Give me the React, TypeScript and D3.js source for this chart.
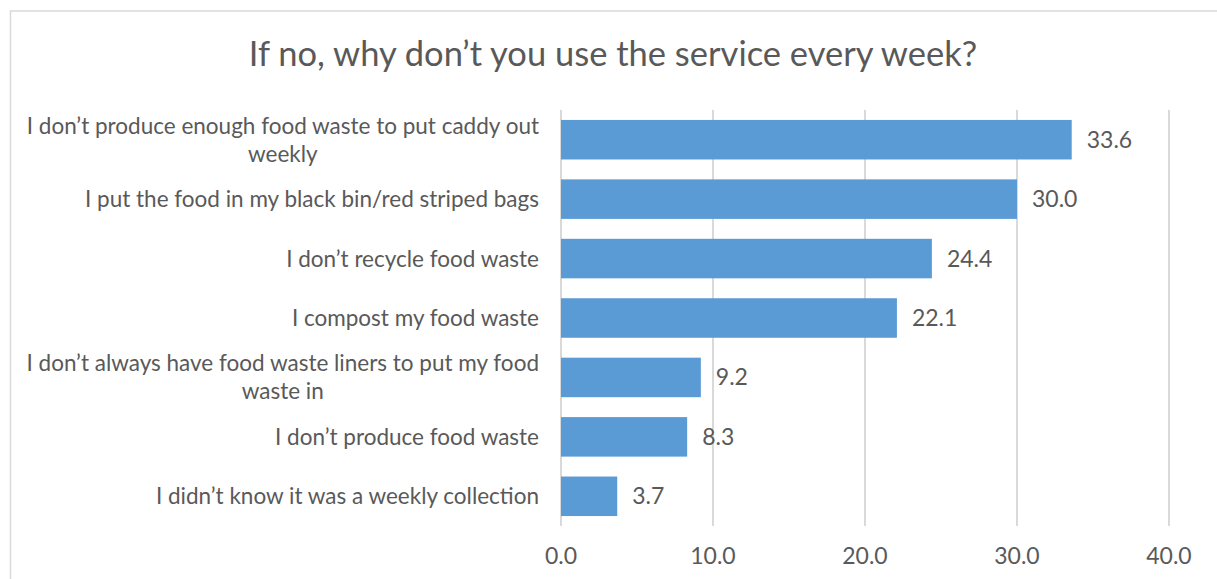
import React, { useEffect, useRef } from "react";
import * as d3 from "d3";

const TITLE = "If no, why don\u2019t you use the service every week?";
const categories = [
  "I don\u2019t produce enough food waste to put caddy out\nweekly",
  "I put the food in my black bin/red striped bags",
  "I don\u2019t recycle food waste",
  "I compost my food waste",
  "I don\u2019t always have food waste liners to put my food\nwaste in",
  "I don\u2019t produce food waste",
  "I didn\u2019t know it was a weekly collection",
];
const values = [33.6, 30.0, 24.4, 22.1, 9.2, 8.3, 3.7];
const xTicks = [0, 10, 20, 30, 40];

const W = 1217;
const H = 579;
const FONT = "Lato, 'Open Sans', sans-serif";
const TEXT = "#595959";
const BAR = "#5B9BD5";
const GRID = "#D9D9D9";

export default function App() {
  const ref = useRef<SVGSVGElement>(null);

  useEffect(() => {
    const svg = d3.select(ref.current);
    svg.selectAll("*").remove();

    const x = d3.scaleLinear().domain([0, 40]).range([561, 1169]);
    const y = d3
      .scaleBand<string>()
      .domain(categories)
      .range([110, 526])
      .paddingInner(0.335)
      .paddingOuter(0.1675);

    svg.append("rect").attr("width", W).attr("height", H).attr("fill", "#fff");
    svg
      .append("rect")
      .attr("x", 10.5)
      .attr("y", 11)
      .attr("width", 1400)
      .attr("height", 800)
      .attr("fill", "none")
      .attr("stroke", GRID)
      .attr("stroke-width", 1.5);

    svg
      .append("text")
      .attr("x", 613)
      .attr("y", 66)
      .attr("text-anchor", "middle")
      .attr("font-family", FONT)
      .attr("font-size", 34.5)
      .attr("fill", TEXT)
      .text(TITLE);

    // gridlines
    svg
      .append("g")
      .selectAll("line")
      .data(xTicks)
      .join("line")
      .attr("x1", (d) => x(d))
      .attr("x2", (d) => x(d))
      .attr("y1", 110)
      .attr("y2", 526)
      .attr("stroke", GRID)
      .attr("stroke-width", 2);

    // tick labels
    svg
      .append("g")
      .selectAll("text")
      .data(xTicks)
      .join("text")
      .attr("x", (d) => x(d))
      .attr("y", 564)
      .attr("text-anchor", "middle")
      .attr("font-family", FONT)
      .attr("font-size", 23)
      .attr("fill", TEXT)
      .text((d) => d3.format(".1f")(d));

    // bars
    svg
      .append("g")
      .selectAll("rect")
      .data(values)
      .join("rect")
      .attr("x", x(0))
      .attr("y", (_, i) => y(categories[i])!)
      .attr("width", (d) => x(d) - x(0))
      .attr("height", y.bandwidth())
      .attr("fill", BAR);

    // value labels
    svg
      .append("g")
      .selectAll("text")
      .data(values)
      .join("text")
      .attr("x", (d) => x(d) + 15)
      .attr("y", (_, i) => y(categories[i])! + y.bandwidth() / 2 + 8)
      .attr("font-family", FONT)
      .attr("font-size", 23)
      .attr("fill", TEXT)
      .text((d) => d3.format(".1f")(d));

    // category labels
    const right = 539;
    const lh = 28;
    categories.forEach((c) => {
      const lines = c.split("\n");
      const cy = y(c)! + y.bandwidth() / 2;
      const t = svg
        .append("text")
        .attr("font-family", FONT)
        .attr("font-size", 22.5)
        .attr("fill", TEXT)
        .attr("text-anchor", "middle");
      const spans = lines.map((l, k) =>
        t
          .append("tspan")
          .attr("y", cy + 8 + (k - (lines.length - 1) / 2) * lh)
          .text(l)
      );
      const widths = spans.map((s) => (s.node() as SVGTSpanElement).getComputedTextLength());
      const maxW = Math.max(...widths);
      spans.forEach((s) => s.attr("x", right - maxW / 2));
    });
  }, []);

  return (
    <svg
      ref={ref}
      width={W}
      height={H}
      style={{ position: "absolute", left: 0, top: 0, display: "block" }}
    />
  );
}
